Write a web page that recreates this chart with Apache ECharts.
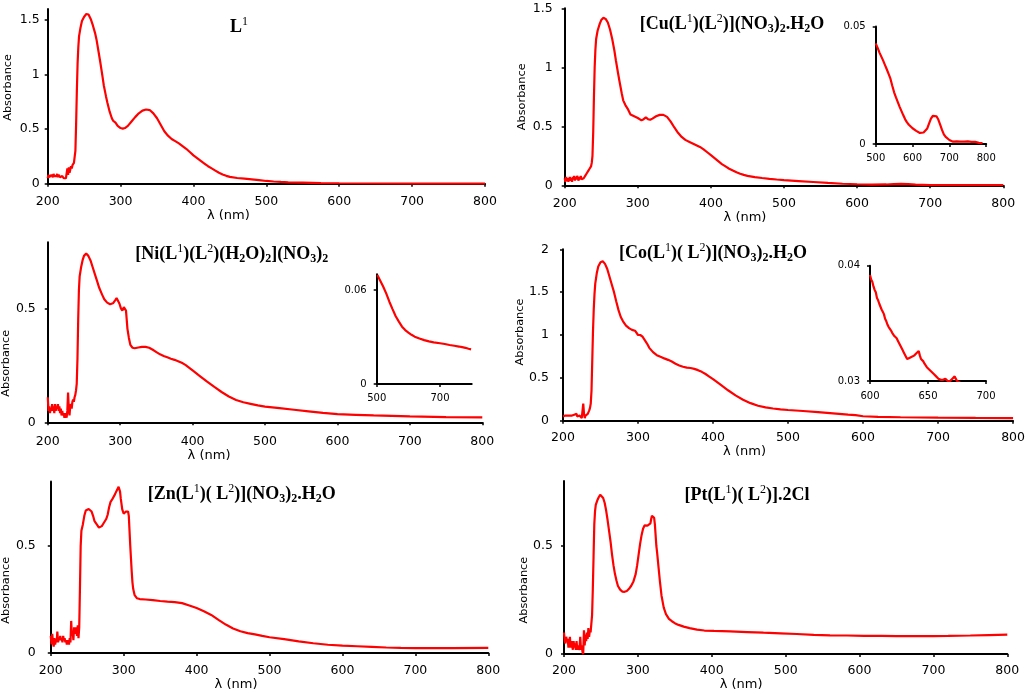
<!DOCTYPE html>
<html>
<head>
<meta charset="utf-8">
<script src="https://cdn.jsdelivr.net/npm/echarts@6/dist/echarts.min.js"></script>
<style>html,body{margin:0;padding:0;background:#fff}#c{width:1028px;height:692px}</style>
</head>
<body>
<div id="c"></div>
<script>
// ---------- data: [wavelength nm, absorbance] ----------
const specL1 = [[200,0.05],[201,0.08],[202,0.06],[203,0.07],[204,0.05],[205,0.08],[206,0.07],[207,0.06],[208,0.09],[209,0.07],[210,0.06],[211,0.08],[212,0.07],[213,0.09],[214,0.06],[215,0.08],[216,0.07],[217,0.06],[218,0.07],[219,0.05],[220,0.07],[221,0.06],[222,0.05],[223,0.06],[224,0.04],[225,0.05],[226,0.04],[227,0.14],[228,0.08],[229,0.15],[230,0.1],[231,0.13],[232,0.16],[233,0.14],[234,0.17],[235,0.16],[236,0.19],[237,0.2],[238,0.3],[239,0.55],[240,0.85],[241,1.1],[242,1.25],[243,1.35],[245,1.43],[247,1.49],[250,1.53],[253,1.555],[256,1.55],[259,1.51],[262,1.45],[265,1.38],[267,1.32],[270,1.2],[272,1.12],[275,0.99],[277,0.9],[280,0.8],[282,0.74],[285,0.66],[288,0.6],[290,0.575],[293,0.56],[296,0.53],[300,0.51],[303,0.505],[306,0.51],[310,0.53],[315,0.57],[320,0.61],[325,0.645],[330,0.67],[335,0.68],[340,0.675],[345,0.645],[350,0.6],[355,0.54],[360,0.48],[365,0.44],[370,0.41],[375,0.39],[380,0.37],[385,0.345],[390,0.32],[395,0.29],[400,0.26],[405,0.235],[410,0.21],[415,0.185],[420,0.16],[425,0.14],[430,0.12],[435,0.1],[440,0.085],[445,0.072],[450,0.063],[460,0.052],[470,0.046],[480,0.04],[490,0.033],[500,0.025],[510,0.02],[520,0.016],[530,0.013],[550,0.01],[575,0.006],[600,0.004],[650,0.002],[700,0.001],[750,0.001],[800,0.001]];

const specCu = [[200,0.06],[201,0.03],[202,0.07],[203,0.04],[204,0.06],[205,0.03],[206,0.05],[207,0.07],[208,0.04],[209,0.06],[210,0.03],[211,0.07],[212,0.05],[213,0.08],[214,0.04],[215,0.07],[216,0.05],[217,0.08],[218,0.06],[219,0.04],[220,0.07],[221,0.05],[222,0.08],[223,0.05],[224,0.06],[225,0.04],[226,0.06],[227,0.05],[228,0.08],[229,0.09],[230,0.1],[232,0.12],[234,0.14],[236,0.16],[237,0.19],[238,0.25],[239,0.45],[240,0.75],[241,1.0],[242,1.15],[243,1.24],[245,1.31],[248,1.37],[250,1.40],[253,1.42],[256,1.41],[259,1.38],[262,1.32],[265,1.24],[268,1.14],[270,1.06],[273,0.95],[275,0.88],[278,0.78],[280,0.72],[283,0.68],[286,0.65],[290,0.6],[295,0.585],[300,0.57],[305,0.55],[308,0.56],[311,0.575],[314,0.56],[317,0.555],[320,0.565],[325,0.585],[330,0.597],[335,0.597],[340,0.58],[345,0.54],[350,0.49],[355,0.445],[360,0.41],[365,0.385],[370,0.37],[375,0.355],[380,0.34],[385,0.325],[390,0.305],[395,0.28],[400,0.255],[405,0.23],[410,0.205],[415,0.18],[420,0.16],[425,0.14],[430,0.125],[435,0.11],[440,0.098],[445,0.088],[450,0.08],[460,0.07],[470,0.062],[480,0.055],[490,0.049],[500,0.044],[520,0.036],[540,0.028],[560,0.02],[580,0.013],[600,0.009],[620,0.006],[640,0.007],[650,0.01],[660,0.012],[670,0.01],[680,0.006],[700,0.002],[750,0.001],[800,0.001]];

const insetCu = [[500,0.0428],[505,0.041],[510,0.039],[515,0.0373],[520,0.0356],[525,0.0337],[530,0.0318],[535,0.0298],[540,0.0278],[545,0.0248],[550,0.022],[555,0.0198],[560,0.0178],[565,0.0158],[570,0.014],[575,0.0122],[580,0.0105],[585,0.0092],[590,0.0082],[595,0.0074],[600,0.0067],[605,0.0061],[610,0.0056],[615,0.005],[620,0.0047],[625,0.0047],[630,0.0049],[635,0.0055],[640,0.0066],[645,0.0088],[650,0.0108],[655,0.012],[660,0.0123],[665,0.0118],[670,0.0104],[675,0.0082],[680,0.006],[685,0.0041],[690,0.003],[695,0.0022],[700,0.0017],[705,0.0012],[710,0.001],[715,0.0008],[720,0.0011],[725,0.0008],[730,0.001],[735,0.0007],[740,0.001],[745,0.0008],[750,0.0011],[755,0.0007],[760,0.0009],[765,0.0006],[770,0.0009],[775,0.0007],[780,0.0005],[785,0.0008],[790,0.0004]];

const specNi = [[200,0.11],[201,0.05],[202,0.07],[203,0.04],[204,0.06],[205,0.05],[206,0.08],[207,0.05],[208,0.07],[209,0.04],[210,0.08],[211,0.05],[212,0.07],[213,0.06],[214,0.08],[215,0.05],[216,0.07],[217,0.04],[218,0.06],[219,0.03],[220,0.05],[221,0.03],[222,0.04],[223,0.02],[224,0.04],[225,0.03],[226,0.02],[227,0.05],[228,0.13],[229,0.06],[230,0.03],[231,0.07],[232,0.08],[233,0.06],[234,0.09],[235,0.1],[236,0.09],[237,0.11],[238,0.12],[239,0.14],[240,0.17],[241,0.28],[242,0.45],[243,0.58],[244,0.64],[246,0.68],[248,0.71],[250,0.73],[253,0.74],[256,0.73],[259,0.71],[262,0.68],[265,0.65],[268,0.62],[271,0.59],[275,0.56],[278,0.54],[282,0.525],[286,0.518],[290,0.522],[293,0.535],[295,0.545],[297,0.54],[299,0.52],[301,0.5],[303,0.49],[305,0.505],[307,0.51],[308,0.49],[309,0.45],[310,0.41],[312,0.37],[314,0.34],[317,0.327],[320,0.325],[325,0.328],[330,0.331],[335,0.331],[340,0.327],[345,0.318],[350,0.308],[355,0.298],[360,0.291],[365,0.285],[370,0.279],[375,0.274],[380,0.268],[385,0.261],[390,0.252],[395,0.24],[400,0.228],[410,0.203],[420,0.178],[430,0.155],[440,0.133],[450,0.113],[460,0.098],[470,0.088],[480,0.081],[490,0.074],[500,0.069],[520,0.062],[540,0.055],[560,0.048],[580,0.041],[600,0.036],[625,0.033],[650,0.03],[675,0.028],[700,0.026],[750,0.023],[800,0.022]];

const insetNi = [[502,0.0696],[510,0.0664],[520,0.0624],[530,0.0578],[540,0.0525],[550,0.0478],[560,0.0432],[570,0.0398],[580,0.0366],[590,0.0344],[600,0.0328],[610,0.0314],[620,0.0302],[635,0.029],[650,0.028],[665,0.0272],[680,0.0266],[700,0.026],[715,0.0255],[730,0.0249],[745,0.0244],[760,0.0239],[770,0.0235],[780,0.0231],[790,0.0225],[798,0.0221]];

const specCo = [[200,0.05],[201,0.07],[202,0.05],[203,0.06],[204,0.04],[205,0.07],[206,0.06],[207,0.05],[208,0.07],[209,0.06],[210,0.05],[211,0.07],[212,0.06],[213,0.05],[214,0.06],[215,0.07],[216,0.05],[217,0.06],[218,0.08],[219,0.05],[220,0.06],[221,0.05],[222,0.06],[223,0.04],[224,0.05],[225,0.03],[226,0.04],[227,0.2],[228,0.08],[229,0.03],[230,0.06],[231,0.05],[232,0.07],[233,0.08],[234,0.1],[235,0.12],[236,0.15],[237,0.2],[238,0.35],[239,0.7],[240,1.05],[241,1.3],[242,1.48],[243,1.6],[245,1.72],[247,1.8],[250,1.85],[253,1.86],[256,1.83],[259,1.77],[262,1.68],[265,1.59],[268,1.5],[271,1.39],[274,1.29],[277,1.21],[280,1.16],[284,1.11],[288,1.08],[292,1.06],[296,1.05],[298,1.03],[300,1.0],[303,1.0],[306,0.98],[309,0.94],[312,0.9],[315,0.85],[320,0.8],[325,0.765],[330,0.745],[335,0.727],[340,0.71],[345,0.69],[350,0.665],[355,0.645],[360,0.63],[365,0.62],[370,0.615],[375,0.605],[380,0.59],[385,0.57],[390,0.545],[395,0.515],[400,0.485],[410,0.42],[420,0.355],[430,0.295],[440,0.245],[450,0.205],[460,0.175],[470,0.155],[480,0.142],[490,0.132],[500,0.125],[520,0.113],[540,0.1],[560,0.085],[580,0.07],[590,0.065],[600,0.052],[620,0.045],[650,0.04],[700,0.035],[750,0.032],[800,0.03]];

const insetCo = [[600,0.0392],[601,0.0388],[602,0.0386],[603,0.0382],[604,0.0379],[605,0.0377],[606,0.0372],[607,0.037],[608,0.0367],[609,0.0366],[610,0.0362],[611,0.036],[612,0.0358],[613,0.0354],[614,0.0352],[615,0.0349],[616,0.0347],[617,0.0346],[618,0.0344],[619,0.0342],[620,0.0341],[621,0.0339],[622,0.0338],[623,0.0337],[624,0.0335],[625,0.0333],[626,0.0331],[627,0.033],[628,0.0327],[629,0.0325],[630,0.0323],[631,0.0321],[632,0.0319],[633,0.0318],[634,0.032],[635,0.0321],[636,0.0321],[637,0.032],[638,0.0322],[639,0.0323],[640,0.0324],[641,0.0323],[642,0.0326],[643,0.0322],[644,0.0319],[645,0.0318],[646,0.0317],[647,0.0315],[648,0.0314],[649,0.0312],[650,0.0311],[651,0.031],[652,0.0309],[653,0.0308],[654,0.0307],[655,0.0306],[656,0.0305],[657,0.0304],[658,0.0303],[659,0.0302],[660,0.0302],[661,0.0301],[662,0.03],[663,0.0301],[664,0.03],[665,0.0302],[666,0.0302],[667,0.03],[668,0.0301],[669,0.03],[670,0.0301],[671,0.0302],[672,0.0301],[673,0.0304],[674,0.0302],[675,0.03],[676,0.0299],[677,0.0299],[678,0.0298]];

const specZn = [[200,0.08],[201,0.04],[202,0.09],[203,0.05],[204,0.03],[205,0.07],[206,0.04],[207,0.06],[208,0.05],[209,0.1],[210,0.05],[211,0.07],[212,0.06],[213,0.08],[214,0.06],[215,0.07],[216,0.05],[217,0.08],[218,0.06],[219,0.07],[220,0.05],[221,0.06],[222,0.04],[223,0.05],[224,0.06],[225,0.04],[226,0.07],[227,0.05],[228,0.15],[229,0.08],[230,0.1],[231,0.06],[232,0.12],[233,0.09],[234,0.12],[235,0.1],[236,0.08],[237,0.13],[238,0.07],[239,0.12],[240,0.3],[241,0.5],[242,0.57],[244,0.6],[246,0.64],[248,0.665],[250,0.672],[252,0.672],[254,0.668],[256,0.66],[258,0.64],[260,0.615],[262,0.606],[264,0.595],[266,0.585],[268,0.585],[270,0.592],[272,0.603],[274,0.612],[276,0.625],[278,0.645],[280,0.68],[282,0.705],[284,0.715],[286,0.722],[288,0.74],[290,0.755],[292,0.762],[293,0.775],[294,0.772],[295,0.753],[296,0.72],[298,0.67],[300,0.65],[302,0.644],[303,0.66],[305,0.668],[306,0.66],[307,0.64],[308,0.57],[309,0.5],[310,0.44],[311,0.38],[312,0.33],[313,0.3],[315,0.27],[318,0.256],[322,0.252],[330,0.25],[340,0.247],[350,0.243],[360,0.24],[370,0.238],[380,0.233],[390,0.222],[400,0.21],[410,0.195],[420,0.178],[430,0.155],[440,0.133],[450,0.115],[460,0.102],[470,0.093],[480,0.087],[490,0.08],[500,0.074],[520,0.065],[540,0.055],[560,0.046],[580,0.039],[600,0.035],[620,0.032],[640,0.029],[660,0.026],[680,0.024],[700,0.023],[750,0.023],[800,0.024]];

const specPt = [[200,0.1],[201,0.06],[202,0.05],[203,0.08],[204,0.06],[205,0.07],[206,0.03],[207,0.05],[208,0.08],[209,0.03],[210,0.06],[211,0.04],[212,0.02],[213,0.06],[214,0.03],[215,0.05],[216,0.02],[217,0.06],[218,0.02],[219,0.04],[220,0.02],[221,0.03],[222,0.08],[223,0.02],[224,0.04],[225,0.01],[226,0.0],[227,0.11],[228,0.04],[229,0.09],[230,0.06],[231,0.1],[232,0.07],[233,0.12],[234,0.08],[235,0.11],[236,0.1],[237,0.14],[238,0.18],[239,0.3],[240,0.45],[241,0.6],[242,0.66],[243,0.69],[245,0.71],[247,0.725],[249,0.737],[251,0.735],[253,0.722],[255,0.7],[257,0.665],[259,0.62],[261,0.57],[263,0.52],[265,0.46],[267,0.41],[269,0.37],[271,0.34],[273,0.315],[276,0.298],[279,0.289],[282,0.288],[285,0.292],[288,0.302],[291,0.316],[294,0.336],[297,0.37],[299,0.41],[301,0.46],[303,0.51],[305,0.55],[307,0.58],[309,0.595],[311,0.598],[313,0.594],[315,0.6],[317,0.605],[318,0.625],[319,0.64],[320,0.648],[321,0.647],[322,0.63],[323,0.6],[324,0.55],[325,0.5],[326,0.47],[328,0.4],[330,0.33],[332,0.27],[335,0.215],[338,0.185],[342,0.163],[346,0.152],[350,0.143],[355,0.135],[362,0.127],[370,0.12],[380,0.113],[390,0.109],[403,0.107],[425,0.105],[448,0.102],[470,0.099],[493,0.096],[515,0.093],[538,0.089],[560,0.087],[583,0.086],[606,0.084],[630,0.084],[650,0.083],[680,0.083],[700,0.083],[720,0.084],[750,0.086],[775,0.088],[800,0.09]];

// ---------- tick values ----------
const ticksX = [200,300,400,500,600,700,800];
const ticksYL1 = [0,0.5,1,1.5];
const ticksYCu = [0,0.5,1,1.5];
const ticksYNi = [0,0.5];
const ticksYCo = [0,0.5,1,1.5,2];
const ticksYZn = [0,0.5];
const ticksYPt = [0,0.5];
const ticksXInsetCu = [500,600,700,800];
const ticksYInsetCu = [0,0.05];
const ticksXInsetNi = [500,700];
const ticksYInsetNi = [0,0.06];
const ticksXInsetCo = [600,650,700];
const ticksYInsetCo = [0.03,0.04];

// ---------- titles (rich text) ----------
const titleTexts = [
  '{b|L}{sup|1}',
  '{b|[Cu(L}{sup|1}{b|)(L}{sup|2}{b|)](NO}{sub|3}{b|)}{sub|2}{b|.H}{sub|2}{b|O}',
  '{b|[Ni(L}{sup|1}{b|)(L}{sup|2}{b|)(H}{sub|2}{b|O)}{sub|2}{b|](NO}{sub|3}{b|)}{sub|2}',
  '{b|[Co(L}{sup|1}{b|)( L}{sup|2}{b|)](NO}{sub|3}{b|)}{sub|2}{b|.H}{sub|2}{b|O}',
  '{b|[Zn(L}{sup|1}{b|)( L}{sup|2}{b|)](NO}{sub|3}{b|)}{sub|2}{b|.H}{sub|2}{b|O}',
  '{b|[Pt(L}{sup|1}{b|)( L}{sup|2}{b|)].2Cl}'
];

// ---------- layout ----------
const SANS = 'DejaVu Sans';
const SERIF = 'Liberation Serif';
const RED = '#ff0000';

const panels = [
  {data: specL1, grid:{left:47.7, top:9.1, width:437.3, height:174.6}, xMin:200, xMax:800, xt:ticksX, yMin:0, yMax:1.6, yt:ticksYL1, fs:12.5, xm:11.5, ym:8, yName:{gap:34, pad:[0,0,0,18]}, xName:{gap:23, pad:[0,76,0,0]}},
  {data: specCu, grid:{left:564.7, top:8.3, width:438.6, height:177}, xMin:200, xMax:800, xt:ticksX, yMin:0, yMax:1.5, yt:ticksYCu, fs:12.5, xm:11.5, ym:12, yName:{gap:37, pad:[0,0,0,0]}, xName:{gap:21, pad:[0,78,0,0]}},
  {data: specNi, grid:{left:38.3, top:242.2, width:444, height:180.1}, xMin:200, xMax:800, xt:ticksX, yMin:0, yMax:0.79, yt:ticksYNi, fs:12.5, xm:12.5, ym:12, yName:{gap:23.5, pad:[0,62,0,0]}, xName:{gap:18, pad:[0,112,0,0]}},
  {data: specCo, grid:{left:563, top:249.3, width:451, height:171.4}, xMin:200, xMax:800, xt:ticksX, yMin:0, yMax:2, yt:ticksYCo, fs:12.5, xm:11, ym:14, yName:{gap:35.5, pad:[0,0,0,6]}, xName:{gap:23, pad:[0,87,0,0]}},
  {data: specZn, grid:{left:35, top:481.5, width:453.3, height:171.8}, xMin:200, xMax:800, xt:ticksX, yMin:0, yMax:0.8, yt:ticksYZn, fs:12.5, xm:11, ym:15, yName:{gap:16.5, pad:[0,46,0,0]}, xName:{gap:22, pad:[0,67,0,0]}},
  {data: specPt, grid:{left:564, top:481.1, width:443.3, height:176.6}, xMin:200, xMax:800, xt:ticksX, yMin:0, yMax:0.8, yt:ticksYPt, fs:12.5, xm:10, ym:11, yName:{gap:28.5, pad:[0,45,0,0]}, xName:{gap:21, pad:[0,89,0,0]}},
  {data: insetCu, grid:{left:875.7, top:26.5, width:110.5, height:117.5}, xMin:500, xMax:800, xt:ticksXInsetCu, yMin:0, yMax:0.05, yt:ticksYInsetCu, fs:10, xm:9, ym:10},
  {data: insetNi, grid:{left:376.7, top:274.3, width:95, height:109.7}, xMin:500, xMax:800, xt:ticksXInsetNi, yMin:0, yMax:0.07, yt:ticksYInsetNi, fs:10, xm:9, ym:10},
  {data: insetCo, grid:{left:870, top:265.7, width:116, height:115.3}, xMin:600, xMax:700, xt:ticksXInsetCo, yMin:0.03, yMax:0.04, yt:ticksYInsetCo, fs:10, xm:10, ym:10}
];

const titlePos = [[239,27],[732,24],[231.7,254],[713,253],[241.7,494],[747,495]];

const grids = [], xAxes = [], yAxes = [], series = [];
panels.forEach((p, i) => {
  grids.push(Object.assign({containLabel:false}, p.grid));
  const line = {show:true, onZero:false, lineStyle:{color:'#000', width:2}};
  const tick = {show:true, length:3, inside:false, lineStyle:{color:'#000', width:1.5}};
  const xa = {
    gridIndex:i, type:'value', min:p.xMin, max:p.xMax,
    axisLine: line,
    axisTick: Object.assign({customValues:p.xt}, tick),
    axisLabel: {customValues:p.xt, color:'#000', fontFamily:SANS, fontSize:p.fs, margin:p.xm},
    splitLine:{show:false}
  };
  const ya = {
    gridIndex:i, type:'value', min:p.yMin, max:p.yMax,
    axisLine: line,
    axisTick: Object.assign({customValues:p.yt}, tick),
    axisLabel: {customValues:p.yt, color:'#000', fontFamily:SANS, fontSize:p.fs, margin:p.ym},
    splitLine:{show:false}
  };
  if (p.xName) {
    xa.name = 'λ (nm)'; xa.nameLocation = 'middle'; xa.nameGap = p.xName.gap;
    xa.nameTextStyle = {color:'#000', fontFamily:SANS, fontSize:13, padding:p.xName.pad};
  }
  if (p.yName) {
    ya.name = 'Absorbance'; ya.nameLocation = 'middle'; ya.nameGap = p.yName.gap;
    ya.nameTextStyle = {color:'#000', fontFamily:SANS, fontSize:11.3, padding:p.yName.pad};
  }
  xAxes.push(xa); yAxes.push(ya);
  series.push({
    type:'line', xAxisIndex:i, yAxisIndex:i, data:p.data, showSymbol:false, symbol:'none',
    clip:true, lineStyle:{color:RED, width:2.2}, silent:true
  });
});

const richStyles = {
  b:{fontFamily:SERIF, fontWeight:'bold', fontSize:18, lineHeight:22, color:'#000'},
  sup:{fontFamily:SERIF, fontWeight:'normal', fontSize:12, lineHeight:12, verticalAlign:'top', color:'#000'},
  sub:{fontFamily:SERIF, fontWeight:'bold', fontSize:12, lineHeight:12, verticalAlign:'bottom', color:'#000'}
};
const titles = titleTexts.map((t, i) => ({
  text: t, left: titlePos[i][0], top: titlePos[i][1], padding:0,
  textAlign:'center', textVerticalAlign:'middle',
  textStyle:{rich: richStyles}
}));

const chart = echarts.init(document.getElementById('c'), null, {renderer:'canvas'});
chart.setOption({
  animation:false,
  backgroundColor:'#fff',
  title: titles,
  grid: grids, xAxis: xAxes, yAxis: yAxes, series: series
});
</script>
</body>
</html>
